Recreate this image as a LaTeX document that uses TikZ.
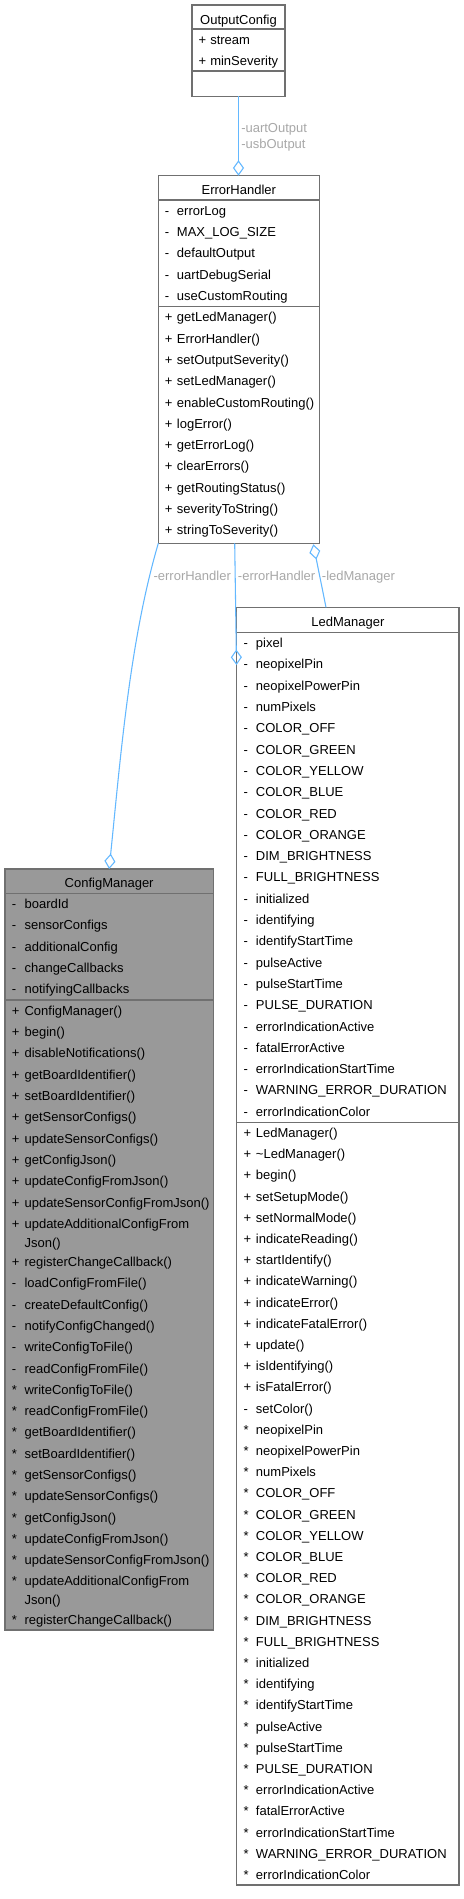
\documentclass[tikz,border=0pt]{standalone}
\usepackage{fontspec}
\setmainfont{Liberation Sans}
\usetikzlibrary{arrows.meta,calc}
\definecolor{edgeblue}{HTML}{63B8FF}
\definecolor{boxgray}{HTML}{707070}
\definecolor{labgray}{HTML}{A8A8A8}
\definecolor{rootfill}{HTML}{999999}
\begin{document}
\begin{tikzpicture}[x=0.75pt,y=-0.75pt,
  box/.style={draw=boxgray, line width=1pt, fill=white, rectangle, inner sep=0pt, outer sep=0pt},
  sepline/.style={draw=boxgray, line width=1pt},
  txt/.style={anchor=base west, inner sep=0pt, font=\fontsize{9.75}{11}\selectfont},
  ttl/.style={anchor=base, inner sep=0pt, font=\fontsize{9.75}{11}\selectfont},
  lab/.style={txt, text=labgray},
  edgeline/.style={draw=edgeblue, line width=0.8pt},
  agg/.style={edgeline, -{Diamond[open, length=11.6pt, width=8.3pt]}}]
\useasboundingbox[fill=white] (0,0) rectangle (464,1899);

% ---------- boxes ----------
\node[box, minimum width=93*0.75pt, minimum height=91.3*0.75pt] (oc) at (238.5, 50.65) {};
\node[box, minimum width=161*0.75pt, minimum height=367.6*0.75pt] (eh) at (238.8, 359.5) {};
\node[box, minimum width=222.3*0.75pt, minimum height=1277.7*0.75pt] (lm) at (347.85, 1246.15) {};
\node[box, fill=rootfill, minimum width=208.3*0.75pt, minimum height=761*0.75pt] (cm) at (109.15, 1249.5) {};

% separators
\draw[sepline] (oc.west |- 0,29) -- (oc.east |- 0,29);
\draw[sepline] (oc.west |- 0,71) -- (oc.east |- 0,71);
\draw[sepline] (eh.west |- 0,200) -- (eh.east |- 0,200);
\draw[sepline] (eh.west |- 0,306.5) -- (eh.east |- 0,306.5);
\draw[sepline] (lm.west |- 0,632.3) -- (lm.east |- 0,632.3);
\draw[sepline] (lm.west |- 0,1122.2) -- (lm.east |- 0,1122.2);
\draw[sepline] (cm.west |- 0,893.3) -- (cm.east |- 0,893.3);
\draw[sepline] (cm.west |- 0,1000) -- (cm.east |- 0,1000);

% ---------- titles ----------
\node[ttl] (octitle) at (238.5, 24) {OutputConfig};
\node[ttl] (ehtitle) at (238.8, 194) {ErrorHandler};
\node[ttl] (lmtitle) at (347.85, 626.4) {LedManager};
\node[ttl] (cmtitle) at (109.15, 887) {ConfigManager};

% ---------- OutputConfig ----------
\node[txt] (ocs1) at (198.3, 44.35) {+};
\node[txt] (oca1) at (210, 44.35) {stream};
\node[txt] (ocs2) at (198.3, 65.65) {+};
\node[txt] (oca2) at (210, 65.65) {minSeverity};

% ---------- ErrorHandler ----------
\foreach \t [count=\i from 0] in {errorLog, MAX\_LOG\_SIZE, defaultOutput, uartDebugSerial, useCustomRouting} {
  \node[txt] (ehas\i) at (164.5, {215.35+21.3*\i}) {-};
  \node[txt] (eha\i) at (176.7, {215.35+21.3*\i}) {\t};
}
\foreach \t [count=\i from 0] in {getLedManager(), ErrorHandler(), setOutputSeverity(), setLedManager(), enableCustomRouting(), logError(), getErrorLog(), clearErrors(), getRoutingStatus(), severityToString(), stringToSeverity()} {
  \node[txt] (ehms\i) at (164.5, {321.85+21.3*\i}) {+};
  \node[txt] (ehm\i) at (176.7, {321.85+21.3*\i}) {\t};
}

% ---------- LedManager ----------
\foreach \t [count=\i from 0] in {pixel, neopixelPin, neopixelPowerPin, numPixels, COLOR\_OFF, COLOR\_GREEN, COLOR\_YELLOW, COLOR\_BLUE, COLOR\_RED, COLOR\_ORANGE, DIM\_BRIGHTNESS, FULL\_BRIGHTNESS, initialized, identifying, identifyStartTime, pulseActive, pulseStartTime, PULSE\_DURATION, errorIndicationActive, fatalErrorActive, errorIndicationStartTime, WARNING\_ERROR\_DURATION, errorIndicationColor} {
  \node[txt] (lmas\i) at (243.3, {647.65+21.3*\i}) {-};
  \node[txt] (lma\i) at (255.7, {647.65+21.3*\i}) {\t};
}
\foreach \s/\t [count=\i from 0] in {+/LedManager(), +/\textasciitilde LedManager(), +/begin(), +/setSetupMode(), +/setNormalMode(), +/indicateReading(), +/startIdentify(), +/indicateWarning(), +/indicateError(), +/indicateFatalError(), +/update(), +/isIdentifying(), +/isFatalError(), -/setColor(), */neopixelPin, */neopixelPowerPin, */numPixels, */COLOR\_OFF, */COLOR\_GREEN, */COLOR\_YELLOW, */COLOR\_BLUE, */COLOR\_RED, */COLOR\_ORANGE, */DIM\_BRIGHTNESS, */FULL\_BRIGHTNESS, */initialized, */identifying, */identifyStartTime, */pulseActive, */pulseStartTime, */PULSE\_DURATION, */errorIndicationActive, */fatalErrorActive, */errorIndicationStartTime, */WARNING\_ERROR\_DURATION, */errorIndicationColor} {
  \node[txt] (lmms\i) at (243.3, {1137.55+21.2*\i}) {\s};
  \node[txt] (lmm\i) at (255.7, {1137.55+21.2*\i}) {\t};
}

% ---------- ConfigManager ----------
\foreach \t [count=\i from 0] in {boardId, sensorConfigs, additionalConfig, changeCallbacks, notifyingCallbacks} {
  \node[txt] (cmas\i) at (11.7, {908.65+21.3*\i}) {-};
  \node[txt] (cma\i) at (24.3, {908.65+21.3*\i}) {\t};
}
\foreach \y/\s/\t [count=\i from 0] in {1010.65/+/ConfigManager(), 1031.95/+/begin(), 1053.25/+/disableNotifications(), 1074.55/+/getBoardIdentifier(), 1095.85/+/setBoardIdentifier(), 1117.15/+/getSensorConfigs(), 1138.45/+/updateSensorConfigs(), 1159.75/+/getConfigJson(), 1181.05/+/updateConfigFromJson(), 1202.35/+/updateSensorConfigFromJson(), 1223.35/+/updateAdditionalConfigFrom, 1242.35/{}/Json(), 1261.85/+/registerChangeCallback(), 1283.15/-/loadConfigFromFile(), 1304.45/-/createDefaultConfig(), 1325.75/-/notifyConfigChanged(), 1347.05/-/writeConfigToFile(), 1368.35/-/readConfigFromFile(), 1389.65/*/writeConfigToFile(), 1410.95/*/readConfigFromFile(), 1432.25/*/getBoardIdentifier(), 1453.55/*/setBoardIdentifier(), 1474.85/*/getSensorConfigs(), 1496.15/*/updateSensorConfigs(), 1517.45/*/getConfigJson(), 1538.75/*/updateConfigFromJson(), 1560.05/*/updateSensorConfigFromJson(), 1581.05/*/updateAdditionalConfigFrom, 1600.05/{}/Json(), 1619.55/*/registerChangeCallback()} {
  \node[txt] (cmms\i) at (11.7, {\y+4.7}) {\s};
  \node[txt] (cmm\i) at (24.3, {\y+4.7}) {\t};
}

% ---------- connectors ----------
\draw[agg] (oc.south) -- (oc.south |- eh.north);
\draw[agg] (eh.south west) .. controls (130,640) and (121,752) .. (cm.north);
\draw[agg] ($(eh.south west)+(76.4,0)$) -- ($(lm.north west)+(-0.2,57.7)$);
\draw[agg] ($(lm.north west)+(89.3,0)$) -- ($(eh.south west)+(155,1)$);

% ---------- connector labels ----------
\node[lab] (luart) at (241, 132.7) {-uartOutput};
\node[lab] (lusb) at (241, 148.7) {-usbOutput};
\node[lab] (lerr1) at (153.3, 580.7) {-errorHandler};
\node[lab] (lerr2) at (237.7, 580.7) {-errorHandler};
\node[lab] (lled) at (321.7, 580.7) {-ledManager};
\end{tikzpicture}
\end{document}
